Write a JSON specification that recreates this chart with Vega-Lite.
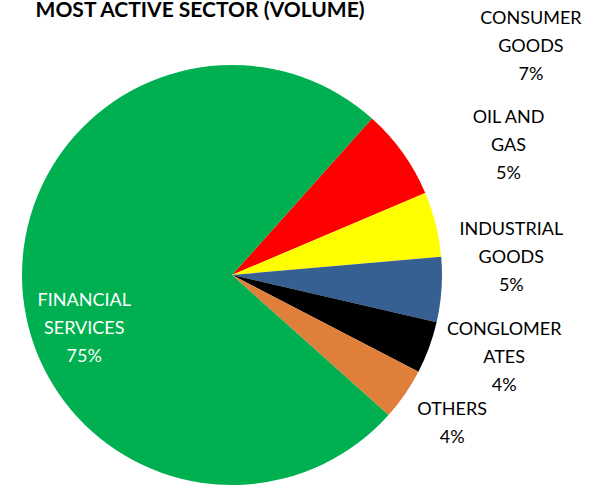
{
  "$schema": "https://vega.github.io/schema/vega-lite/v6.json",
  "width": 464,
  "height": 422,
  "autosize": "none",
  "padding": {"left": 0, "top": 64, "right": 151, "bottom": 0},
  "background": "white",
  "title": {"text": "MOST ACTIVE SECTOR (VOLUME)", "font": "Lato", "fontSize": 21, "fontWeight": "bold", "color": "#000000", "anchor": "middle", "frame": "group", "dx": -32, "offset": -28, "baseline": "alphabetic"},
  "data": {"values": [
    {"sector": "CONSUMER GOODS", "label": "CONSUMER\nGOODS\n7%", "value": 7, "idx": 1},
    {"sector": "OIL AND GAS", "label": "OIL AND\nGAS\n5%", "value": 5, "idx": 2},
    {"sector": "INDUSTRIAL GOODS", "label": "INDUSTRIAL\nGOODS\n5%", "value": 5, "idx": 3},
    {"sector": "CONGLOMERATES", "label": "CONGLOMER\nATES\n4%", "value": 4, "idx": 4},
    {"sector": "OTHERS", "label": "OTHERS\n4%", "value": 4, "idx": 5},
    {"sector": "FINANCIAL SERVICES", "label": "FINANCIAL\nSERVICES\n75%", "value": 75, "idx": 6}
  ]},
  "encoding": {
    "theta": {"field": "value", "type": "quantitative", "stack": true, "scale": {"range": [0.7295, 7.0127]}},
    "order": {"field": "idx", "type": "quantitative"}
  },
  "layer": [
    {
      "mark": {"type": "arc", "outerRadius": 210},
      "encoding": {
        "color": {"field": "sector", "type": "nominal", "legend": null,
          "scale": {"domain": ["CONSUMER GOODS", "OIL AND GAS", "INDUSTRIAL GOODS", "CONGLOMERATES", "OTHERS", "FINANCIAL SERVICES"],
                    "range": ["#FF0000", "#FFFF00", "#366092", "#000000", "#E07F3A", "#00B050"]}}
      }
    },
    {
      "mark": {"type": "text", "font": "Lato", "fontSize": 18, "lineBreak": "\n", "lineHeight": 28, "align": "center", "baseline": "middle", "radius": 375, "dx": -6, "dy": -38, "color": "#000000"},
      "encoding": {"text": {"condition": {"test": "datum.sector === 'CONSUMER GOODS'", "field": "label"}, "value": ""}}
    },
    {
      "mark": {"type": "text", "font": "Lato", "fontSize": 18, "lineBreak": "\n", "lineHeight": 28, "align": "center", "baseline": "middle", "radius": 285, "dy": -88, "color": "#000000"},
      "encoding": {"text": {"condition": {"test": "datum.sector === 'OIL AND GAS'", "field": "label"}, "value": ""}}
    },
    {
      "mark": {"type": "text", "font": "Lato", "fontSize": 18, "lineBreak": "\n", "lineHeight": 28, "align": "center", "baseline": "middle", "radius": 280, "dy": -65, "color": "#000000"},
      "encoding": {"text": {"condition": {"test": "datum.sector === 'INDUSTRIAL GOODS'", "field": "label"}, "value": ""}}
    },
    {
      "mark": {"type": "text", "font": "Lato", "fontSize": 18, "lineBreak": "\n", "lineHeight": 28, "align": "center", "baseline": "middle", "radius": 290, "dy": -45, "color": "#000000"},
      "encoding": {"text": {"condition": {"test": "datum.sector === 'CONGLOMERATES'", "field": "label"}, "value": ""}}
    },
    {
      "mark": {"type": "text", "font": "Lato", "fontSize": 18, "lineBreak": "\n", "lineHeight": 28, "align": "center", "baseline": "middle", "radius": 265, "dy": -15, "dx": 2, "color": "#000000"},
      "encoding": {"text": {"condition": {"test": "datum.sector === 'OTHERS'", "field": "label"}, "value": ""}}
    },
    {
      "mark": {"type": "text", "font": "Lato", "fontSize": 18, "lineBreak": "\n", "lineHeight": 28, "align": "center", "baseline": "middle", "radius": 150, "dy": 18, "dx": 2, "color": "#FFFFFF"},
      "encoding": {"text": {"condition": {"test": "datum.sector === 'FINANCIAL SERVICES'", "field": "label"}, "value": ""}}
    }
  ]
}
